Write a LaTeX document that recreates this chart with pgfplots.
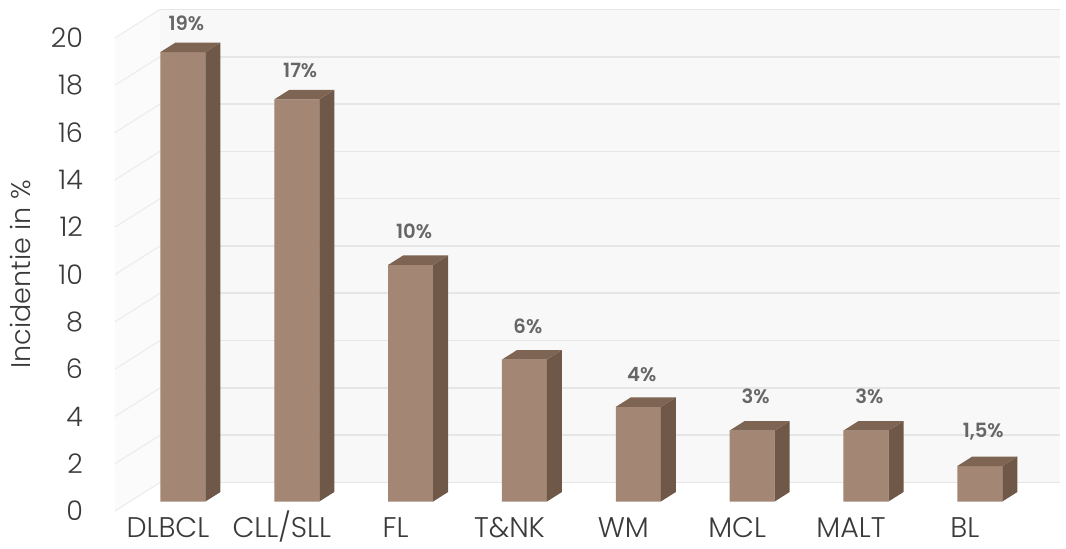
\documentclass[border=0pt]{standalone}
\usepackage{pgfplots}
\pgfplotsset{compat=1.18}
\usepackage{fontspec}
\setmainfont{Poppins}[UprightFont={* Light},BoldFont={* SemiBold}]

\definecolor{barfront}{HTML}{A38674}
\definecolor{bartop}{HTML}{7E6452}
\definecolor{barside}{HTML}{705848}
\definecolor{wallback}{HTML}{F8F8F8}
\definecolor{gridc}{HTML}{E6E6E6}
\definecolor{valc}{HTML}{666666}
\definecolor{txtc}{HTML}{3A3A3A}

% oblique depth of one bar (axis units) and half bar width
\newcommand\ddx{0.1318}
\newcommand\ddy{0.4017}
\newcommand\hw{0.1977}

\tikzset{vallabel/.style={font=\bfseries\fontsize{9.8}{11}\selectfont,text=valc,anchor=center,inner sep=0pt}}

% #1 category index, #2 value, #3 label text, #4 label lift
\newcommand\cuboid[4]{%
  \pgfmathsetmacro\xa{#1+\ddx-\hw}%
  \pgfmathsetmacro\xb{#1+\ddx+\hw}%
  \pgfmathsetmacro\xc{\xa+\ddx}%
  \pgfmathsetmacro\xd{\xb+\ddx}%
  \pgfmathsetmacro\ya{\ddy}%
  \pgfmathsetmacro\yb{#2+\ddy}%
  \pgfmathsetmacro\yc{2*\ddy}%
  \pgfmathsetmacro\yd{#2+2*\ddy}%
  \pgfmathsetmacro\xm{#1+\ddx+0.03}%
  \edef\drawcuboid{%
    \noexpand\addplot[draw=none,fill=barfront] coordinates {(\xa,\ya) (\xb,\ya) (\xb,\yb) (\xa,\yb) (\xa,\ya)};
    \noexpand\addplot[draw=none,fill=barside] coordinates {(\xb,\ya) (\xd,\yc) (\xd,\yd) (\xb,\yb) (\xb,\ya)};
    \noexpand\addplot[draw=none,fill=bartop] coordinates {(\xa,\yb) (\xb,\yb) (\xd,\yd) (\xc,\yd) (\xa,\yb)};
    \noexpand\node[vallabel] at (axis cs:\xm,\yd) [yshift=#4] {\unexpanded{#3}};
  }%
  \drawcuboid
}

\begin{document}
\begin{tikzpicture}
\begin{axis}[
  scale only axis,
  width=472.5pt, height=250.5pt,
  xmin=-0.465, xmax=7.836,
  ymin=0, ymax=21.18,
  axis line style={draw=none},
  tick style={draw=none},
  clip=false,
  xtick={0,...,7},
  xticklabels={DLBCL,CLL/SLL,FL,T\&NK,WM,MCL,MALT,BL},
  xticklabel style={font=\fontsize{14.2}{17}\selectfont,text=txtc,anchor=base,inner sep=0pt,yshift=-13pt},
  ytick={0,2,...,20},
  yticklabel style={font=\fontsize{13.5}{16}\selectfont,text=txtc,anchor=east,xshift=-12.5pt},
  /pgf/number format/assume math mode=true,
  ylabel={Incidentie in \%},
  every axis y label/.style={at={(axis description cs:0,0.472)},xshift=-47.5pt,anchor=center,rotate=90,font=\fontsize{13.5}{16}\selectfont,text=txtc},
]
\coordinate (O) at (axis cs:-0.465,0);
% back wall, floor edge and left wall
\fill[wallback] (axis cs:-0.0696,1.205) rectangle (axis cs:7.836,21.18);
\fill[white!50!wallback] (axis cs:-0.465,0) -- (axis cs:-0.0696,1.205) -- (axis cs:-0.0696,21.18) -- (axis cs:-0.465,20) -- cycle;
\pgfplotsinvokeforeach{0,2,...,20}{
  \draw[gridc,line width=0.8pt] (axis cs:-0.0696,{#1+1.205}) -- (axis cs:7.836,{#1+1.205});
  \draw[gridc!70,line width=0.6pt] (axis cs:-0.465,#1) -- (axis cs:-0.0696,{#1+1.205});
}
\cuboid{0}{19}{19\%}{9.5pt}
\cuboid{1}{17}{17\%}{9.5pt}
\cuboid{2}{10}{10\%}{12pt}
\cuboid{3}{6}{6\%}{12pt}
\cuboid{4}{4}{4\%}{11.5pt}
\cuboid{5}{3}{3\%}{12.5pt}
\cuboid{6}{3}{3\%}{12.5pt}
\cuboid{7}{1.5}{1,5\%}{12.5pt}
\end{axis}
\pgfresetboundingbox
\path[use as bounding box] (O) ++(-57.5pt,-18.5pt) rectangle ++(533pt,274pt);
\end{tikzpicture}
\end{document}
